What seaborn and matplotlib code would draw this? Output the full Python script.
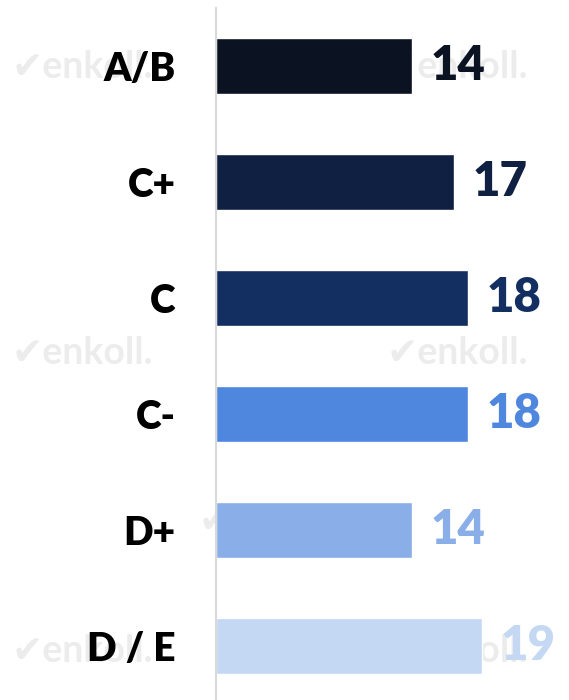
import matplotlib
matplotlib.use('Agg')
import pandas as pd
import matplotlib.pyplot as plt
import seaborn as sns

# datos
categorias = ['A/B', 'C+', 'C', 'C-', 'D+', 'D / E']
valores = [14, 17, 18, 18, 14, 19]
colores = ['#0b1323', '#0f2042', '#132f61', '#4f86de', '#8aaee8', '#c5d8f3']

df = pd.DataFrame({'Nivel': categorias, 'Valor': valores})

sns.set_style('white')
plt.rcParams['font.family'] = ['Lato', 'DejaVu Sans']

fig = plt.figure(figsize=(5.69, 7.00), dpi=100)

# marcas de agua (detras de todo)
for (x, y) in [(0.02, 0.905), (0.68, 0.905), (0.02, 0.495), (0.68, 0.495),
               (0.35, 0.255), (0.02, 0.07), (0.68, 0.07)]:
    fig.text(x, y, '\u2714enkoll.', fontsize=27, fontweight='bold',
             color='#ececec', va='center', ha='left', zorder=-5)

ax = fig.add_axes([216 / 569, 0, 353 / 569, 692 / 700])
ax.set_zorder(1)
ax.patch.set_alpha(0)
sns.barplot(data=df, x='Valor', y='Nivel', hue='Nivel', palette=colores,
            legend=False, width=0.483, ax=ax, saturation=1)

ax.set_xlim(0, 25.2)
ax.set_ylim(5.47, -0.5)
ax.set_xlabel('')
ax.set_ylabel('')
ax.set_xticks([])
ax.tick_params(axis='y', length=0, pad=29)
for lbl in ax.get_yticklabels():
    lbl.set_fontsize(28)
    lbl.set_fontweight('heavy')
    lbl.set_color('black')

for s in ['top', 'right', 'bottom']:
    ax.spines[s].set_visible(False)
ax.spines['left'].set_color('#d9d9d9')
ax.spines['left'].set_linewidth(1.5)

for i, v in enumerate(valores):
    ax.text(v + 1.3, i, str(v), fontsize=34, fontweight='heavy',
            color=colores[i], va='center', ha='left')

fig.savefig('out.png', dpi=100)
